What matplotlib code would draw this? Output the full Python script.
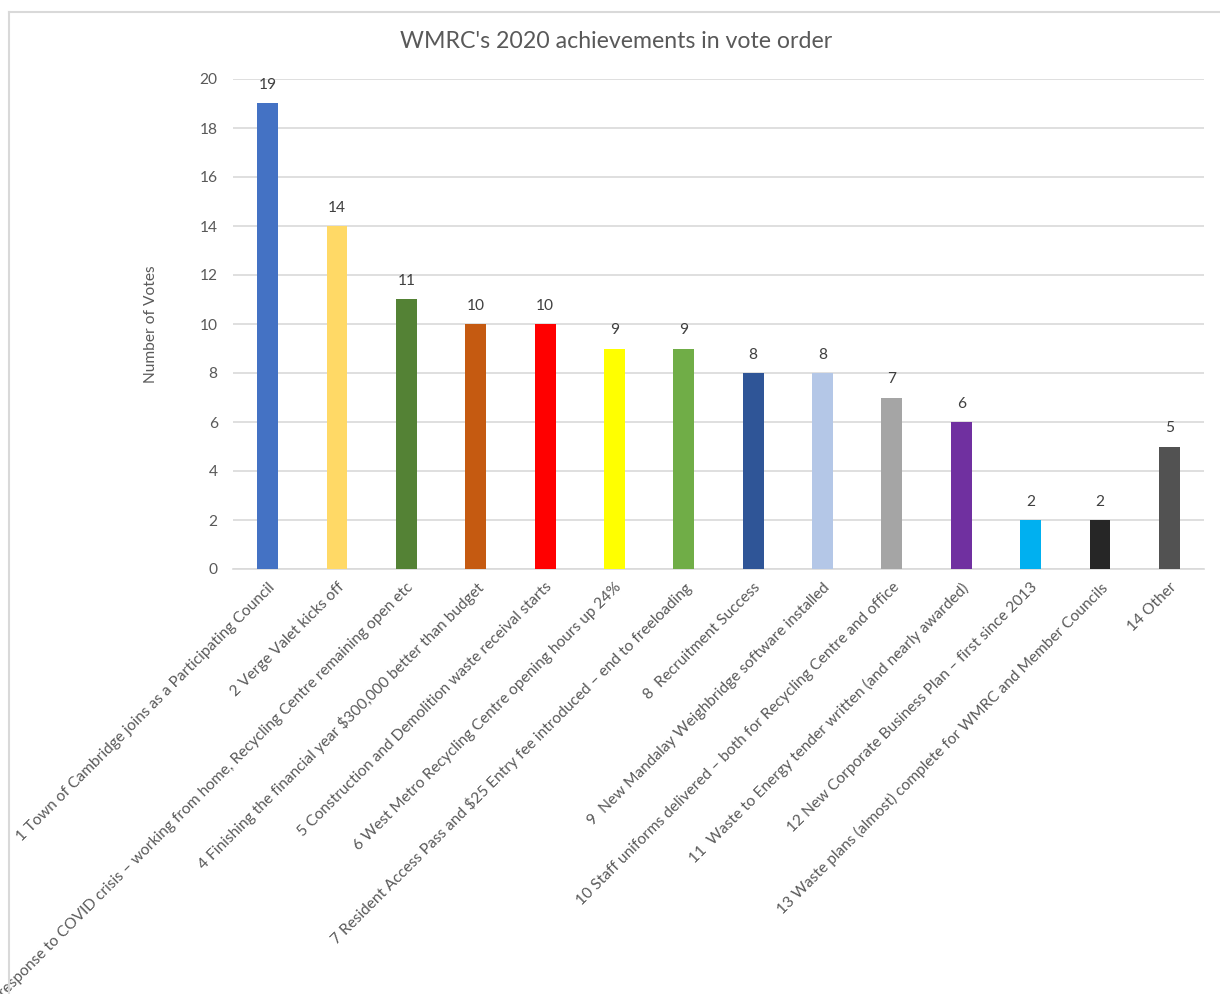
import matplotlib.pyplot as plt
from matplotlib.lines import Line2D

categories = [
    "1 Town of Cambridge joins as a Participating Council",
    "2 Verge Valet kicks off",
    "3 response to COVID crisis \u2013 working from home, Recycling Centre remaining open etc",
    "4 Finishing the financial year $300,000 better than budget",
    "5 Construction and Demolition waste receival starts",
    "6 West Metro Recycling Centre opening hours up 24%",
    "7 Resident Access Pass and $25 Entry fee introduced \u2013 end to freeloading",
    "8  Recruitment Success",
    "9  New Mandalay Weighbridge software installed",
    "10 Staff uniforms delivered \u2013 both for Recycling Centre and office",
    "11  Waste to Energy tender written (and nearly awarded)",
    "12 New Corporate Business Plan \u2013 first since 2013",
    "13 Waste plans (almost) complete for WMRC and Member Councils",
    "14 Other",
]
votes = [19, 14, 11, 10, 10, 9, 9, 8, 8, 7, 6, 2, 2, 5]
colors = ["#4472C4", "#FFD966", "#548235", "#C55A11", "#FF0000", "#FFFF00", "#70AD47",
          "#2F5597", "#B4C7E7", "#A5A5A5", "#7030A0", "#00B0F0", "#262626", "#525252"]

plt.rcParams["font.family"] = ["Lato", "DejaVu Sans"]

fig = plt.figure(figsize=(12.2, 9.94), dpi=100)
ax = fig.add_axes([233 / 1220, 1 - 569 / 994, (1204 - 233) / 1220, (569 - 79) / 994])

x = list(range(len(votes)))
ax.bar(x, votes, width=0.3, color=colors, zorder=3)

for xi, v in zip(x, votes):
    ax.annotate(str(v), (xi, v), xytext=(0, 8), textcoords="offset points",
                ha="center", va="bottom", fontsize=11.2, color="#404040")

ax.set_xlim(-0.5, len(votes) - 0.5)
ax.set_ylim(0, 20)
ax.set_yticks(range(0, 21, 2))
ax.yaxis.grid(True, color="#D9D9D9", linewidth=1.2, zorder=0)
ax.set_axisbelow(True)
for s in ["top", "right", "left"]:
    ax.spines[s].set_visible(False)
ax.spines["bottom"].set_color("#D9D9D9")
ax.spines["bottom"].set_linewidth(1.2)
ax.tick_params(axis="both", length=0, labelsize=11.2, labelcolor="#595959")
ax.tick_params(axis="y", pad=11)

ax.set_xticks(x)
ax.set_xticklabels(categories, rotation=45, ha="right", rotation_mode="anchor")
ax.tick_params(axis="x", pad=8)

ax.set_ylabel("Number of Votes", fontsize=11.2, color="#595959", labelpad=30)

fig.text(616 / 1220, 1 - 42 / 994, "WMRC's 2020 achievements in vote order",
         ha="center", va="center", fontsize=16.7, color="#595959")

# chart frame (top and left edges visible)
fig.add_artist(Line2D([9 / 1220, 1.0], [1 - 12 / 994, 1 - 12 / 994], color="#D9D9D9", linewidth=1.5))
fig.add_artist(Line2D([9 / 1220, 9 / 1220], [0.0, 1 - 12 / 994], color="#D9D9D9", linewidth=1.5))

plt.savefig("out.png", dpi=100)
